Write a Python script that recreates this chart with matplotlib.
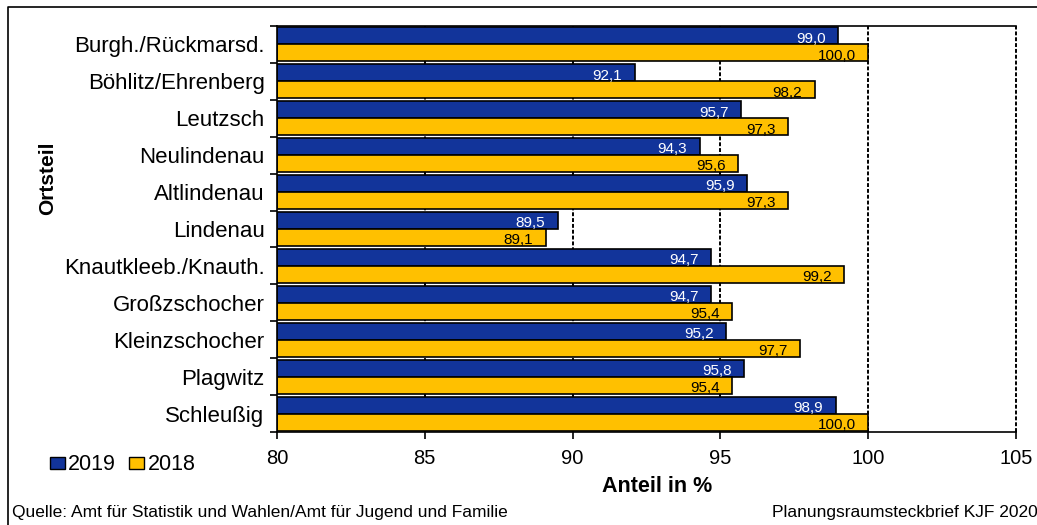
import matplotlib.pyplot as plt
from matplotlib.lines import Line2D
from matplotlib.patches import Patch
import numpy as np

plt.rcParams['font.family'] = ['Liberation Sans', 'DejaVu Sans']

# Data
ortsteile = ['Burgh./Rückmarsd.', 'Böhlitz/Ehrenberg', 'Leutzsch', 'Neulindenau',
             'Altlindenau', 'Lindenau', 'Knautkleeb./Knauth.', 'Großzschocher',
             'Kleinzschocher', 'Plagwitz', 'Schleußig']
werte_2019 = [99.0, 92.1, 95.7, 94.3, 95.9, 89.5, 94.7, 94.7, 95.2, 95.8, 98.9]
werte_2018 = [100.0, 98.2, 97.3, 95.6, 97.3, 89.1, 99.2, 95.4, 97.7, 95.4, 100.0]
x_ticks = [80, 85, 90, 95, 100, 105]

blue = '#12349a'
yellow = '#ffc000'

W, H = 1037, 525
fig = plt.figure(figsize=(W / 100, H / 100), dpi=100)
ax = fig.add_axes([277 / W, 1 - 432 / H, (1015.8 - 277) / W, (432 - 26) / H])

y = np.arange(len(ortsteile))
h = 0.46
left = x_ticks[0]

# dashed gridlines behind the bars
for xv in x_ticks[1:]:
    ax.axvline(xv, color='black', lw=1.4, ls=(0, (2, 1)), zorder=0, clip_on=False)

ax.barh(y - h / 2, np.array(werte_2019) - left, left=left, height=h,
        color=blue, edgecolor='black', linewidth=1.2, zorder=2)
ax.barh(y + h / 2, np.array(werte_2018) - left, left=left, height=h,
        color=yellow, edgecolor='black', linewidth=1.2, zorder=2)

for yy, v in zip(y, werte_2019):
    ax.annotate(f'{v:.1f}'.replace('.', ','), (v, yy - h / 2), xytext=(-9, -2),
                textcoords='offset points', ha='right', va='center',
                color='white', fontsize=11, zorder=3)
for yy, v in zip(y, werte_2018):
    ax.annotate(f'{v:.1f}'.replace('.', ','), (v, yy + h / 2), xytext=(-9, -2),
                textcoords='offset points', ha='right', va='center',
                color='black', fontsize=11, zorder=3)

ax.set_xlim(80, 105)
ax.set_ylim(len(ortsteile) - 0.5, -0.5)
ax.set_xticks(x_ticks)
ax.set_xticklabels([str(t) for t in x_ticks], fontsize=14.5)
ax.tick_params(axis='x', direction='out', length=5, width=1.2, pad=7)

ax.set_yticks(y)
ax.set_yticklabels(ortsteile, fontsize=16)
ax.tick_params(axis='y', which='major', length=0, pad=9)
ax.set_yticks(np.arange(len(ortsteile) + 1) - 0.5, minor=True)
ax.tick_params(axis='y', which='minor', direction='out', length=5, width=1.2)

ax.spines['right'].set_visible(False)
for s in ['left', 'bottom', 'top']:
    ax.spines[s].set_linewidth(1.2)
    ax.spines[s].set_color('black')

fig.text(48 / W, 1 - 178 / H, 'Ortsteil', rotation=90, ha='center', va='center',
         fontsize=15, fontweight='bold')
fig.text(657 / W, 1 - 487 / H, 'Anteil in %', ha='center', va='center',
         fontsize=15.5, fontweight='bold')

handles = [Patch(facecolor=blue, edgecolor='black', linewidth=1),
           Patch(facecolor=yellow, edgecolor='black', linewidth=1)]
fig.legend(handles, ['2019', '2018'], loc='center left',
           bbox_to_anchor=(35 / W, 1 - 465 / H), ncol=2, frameon=False,
           fontsize=15.5, handlelength=0.7, handleheight=0.5, handletextpad=0.15,
           columnspacing=0.6, borderpad=0.2)

fig.text(12 / W, 1 - 513 / H,
         'Quelle: Amt für Statistik und Wahlen/Amt für Jugend und Familie',
         ha='left', va='center', fontsize=12.5)
fig.text(772 / W, 1 - 513 / H, 'Planungsraumsteckbrief KJF 2020',
         ha='left', va='center', fontsize=12.5)

# outer frame (left and top)
fig.add_artist(Line2D([8 / W, 8 / W, 1], [0, 1 - 7 / H, 1 - 7 / H],
                      transform=fig.transFigure, color='black', lw=1.2))

fig.savefig('out.png', dpi=100)
